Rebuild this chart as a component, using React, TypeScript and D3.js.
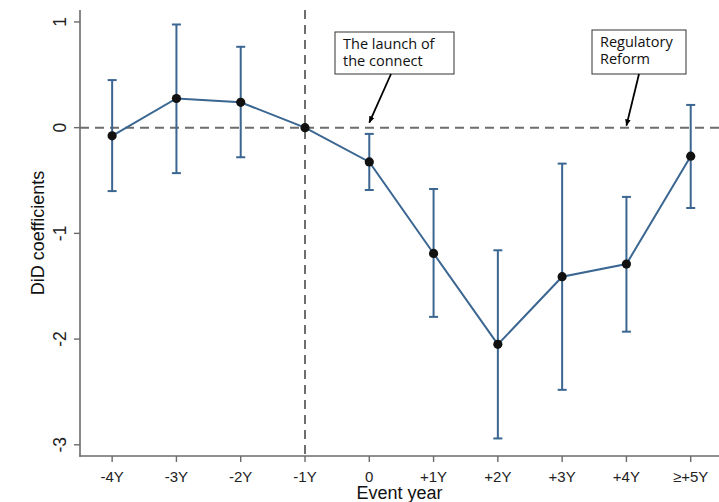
import React from "react";
import * as d3 from "d3";

const categories = ["-4Y", "-3Y", "-2Y", "-1Y", "0", "+1Y", "+2Y", "+3Y", "+4Y", "≥+5Y"];
const coef = [-0.077, 0.276, 0.24, 0, -0.324, -1.19, -2.05, -1.41, -1.29, -0.27];
const ciUpper = [0.45, 0.976, 0.765, null, -0.059, -0.58, -1.16, -0.34, -0.655, 0.215];
const ciLower = [-0.6, -0.43, -0.28, null, -0.59, -1.79, -2.94, -2.48, -1.93, -0.76];
const yTicks = [1, 0, -1, -2, -3];
const annotations = [
  { lines: ["The launch of", "the connect"], target: 4, box: [335, 32, 119, 42] },
  { lines: ["Regulatory", "Reform"], target: 8, box: [592, 30, 94, 44] },
];

const W = 719;
const H = 502;
const left = 80;
const right = 719;
const top = 10;
const bottom = 456;
const blue = "#3a6691";
const gray = "#6e6e6e";
const axisCol = "#6b6b6b";

export default function App() {
  const x = d3.scaleLinear().domain([-0.5, 9.44]).range([left, right]);
  const y = d3.scaleLinear().domain([-3.106, 1.113]).range([bottom, top]);
  const line = d3
    .line<number>()
    .x((_, i) => x(i))
    .y((d) => y(d));

  return (
    <svg
      width={W}
      height={H}
      style={{ position: "absolute", left: 0, top: 0, background: "#fff" }}
      fontFamily="'Liberation Sans', Arial, sans-serif"
    >
      <defs>
        <marker id="arr" viewBox="0 0 10 10" refX="9" refY="5" markerWidth="7" markerHeight="7" orient="auto" markerUnits="userSpaceOnUse">
          <path d="M0,1 L10,5 L0,9 z" fill="#000" />
        </marker>
      </defs>
      {/* reference lines */}
      <line x1={left} x2={right} y1={y(0)} y2={y(0)} stroke={gray} strokeWidth={2} strokeDasharray="9,6" />
      <line x1={x(3)} x2={x(3)} y1={top} y2={bottom} stroke={gray} strokeWidth={2} strokeDasharray="9,6" />

      {/* axes */}
      <line x1={left} x2={left} y1={top} y2={bottom + 0.75} stroke={axisCol} strokeWidth={1.6} />
      <line x1={left - 0.75} x2={right} y1={bottom} y2={bottom} stroke={axisCol} strokeWidth={1.6} />
      {yTicks.map((t) => (
        <g key={t}>
          <line x1={left - 6} x2={left} y1={y(t)} y2={y(t)} stroke={axisCol} strokeWidth={1.4} />
          <text
            x={66}
            y={y(t)}
            transform={`rotate(-90, 66, ${y(t)})`}
            textAnchor="middle"
            fontSize={17.5}
            fill="#222"
          >
            {t}
          </text>
        </g>
      ))}
      {categories.map((c, i) => (
        <g key={c}>
          <line x1={x(i)} x2={x(i)} y1={bottom} y2={bottom + 6} stroke={axisCol} strokeWidth={1.4} />
          <text x={x(i)} y={482} textAnchor="middle" fontSize={15} fill="#222">
            {c}
          </text>
        </g>
      ))}
      <text x={(left + right) / 2} y={499} textAnchor="middle" fontSize={18} fill="#111">
        Event year
      </text>
      <text x={44} y={233} transform="rotate(-90, 44, 233)" textAnchor="middle" fontSize={18} fill="#111">
        DiD coefficients
      </text>

      {/* error bars */}
      {coef.map((_, i) =>
        ciUpper[i] === null || ciLower[i] === null ? null : (
          <g key={"e" + i} stroke={blue} strokeWidth={2}>
            <line x1={x(i)} x2={x(i)} y1={y(ciUpper[i] as number)} y2={y(ciLower[i] as number)} />
            <line x1={x(i) - 4.5} x2={x(i) + 4.5} y1={y(ciUpper[i] as number)} y2={y(ciUpper[i] as number)} />
            <line x1={x(i) - 4.5} x2={x(i) + 4.5} y1={y(ciLower[i] as number)} y2={y(ciLower[i] as number)} />
          </g>
        )
      )}
      <path d={line(coef) || ""} fill="none" stroke={blue} strokeWidth={2} />
      {coef.map((v, i) => (
        <circle key={"p" + i} cx={x(i)} cy={y(v)} r={4.6} fill="#111" />
      ))}

      {/* annotations */}
      {annotations.map((a, k) => {
        const [bx, by, bw, bh] = a.box;
        const ax = bx + (k === 0 ? 56 : 47);
        return (
          <g key={"a" + k}>
            <rect x={bx} y={by} width={bw} height={bh} fill="#fff" stroke="#333" strokeWidth={1} />
            {a.lines.map((l, j) => (
              <text key={j} x={bx + 8} y={by + 17 + j * 17} fontSize={14.5} fill="#111" fontFamily="'Open Sans', 'Noto Sans', sans-serif">
                {l}
              </text>
            ))}
            <line
              x1={ax}
              y1={by + bh}
              x2={x(a.target)}
              y2={y(0) - 5 + (k === 1 ? 3 : 0)}
              stroke="#000"
              strokeWidth={1.8}
              markerEnd="url(#arr)"
            />
          </g>
        );
      })}
    </svg>
  );
}
